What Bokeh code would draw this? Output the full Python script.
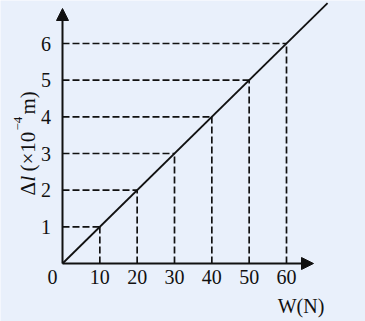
import math
from bokeh.plotting import figure
from bokeh.models import Range1d, Arrow, NormalHead, ColumnDataSource
from bokeh.core.properties import value
from bokeh.embed import file_html
from bokeh.resources import INLINE

# ---- data ----
weights = [10, 20, 30, 40, 50, 60]          # W (N)
extensions = [1, 2, 3, 4, 5, 6]             # Δl (×10⁻⁴ m)
x_tick_labels = ["10", "20", "30", "40", "50", "60"]
y_tick_labels = ["1", "2", "3", "4", "5", "6"]
fit_w = [0, 71]                              # straight line through origin
fit_dl = [0, 7.1]

# ---- layout helpers ----
W, H = 365, 321
OX, OY = 62, 263            # pixel position of the origin
SX = 224 / 60               # px per N
SY = 220 / 6                # px per unit of Δl
BG = "#E9F0FB"
INK = "#111111"
FONT = value("Liberation Serif")


def dx(px):
    return (px - OX) / SX


def dy(py):
    return (OY - py) / SY


p = figure(width=W, height=H,
           x_range=Range1d(dx(0), dx(W)), y_range=Range1d(dy(H), dy(0)),
           output_backend="svg", toolbar_location=None, min_border=0,
           x_axis_type=None, y_axis_type=None,
           background_fill_color=BG, border_fill_color=BG,
           outline_line_color=None)

src = ColumnDataSource(dict(w=weights, dl=extensions, zero=[0] * len(weights)))

# dashed guide lines
p.segment(x0="zero", y0="dl", x1="w", y1="dl", source=src,
          line_dash="7 3", line_width=1.7, line_color=INK)
p.segment(x0="w", y0="zero", x1="w", y1="dl", source=src,
          line_dash="7 3", line_width=1.7, line_color=INK)

# fitted line
p.line(fit_w, fit_dl, line_width=1.8, line_color=INK)

# axes with arrows
p.add_layout(Arrow(end=NormalHead(size=12, fill_color=INK, line_color=INK, line_width=1),
                   x_start=0, y_start=0, x_end=dx(313), y_end=0,
                   line_width=2, line_color=INK))
p.add_layout(Arrow(end=NormalHead(size=12, fill_color=INK, line_color=INK, line_width=1),
                   x_start=0, y_start=0, x_end=0, y_end=dy(8),
                   line_width=2, line_color=INK))

# tick labels
p.text(x=weights, y=dy(276.5), text=x_tick_labels, text_font=FONT,
       text_font_size="20px", text_color=INK,
       text_align="center", text_baseline="middle")
p.text(x=dx(45.5), y=extensions, text=y_tick_labels, text_font=FONT,
       text_font_size="20px", text_color=INK,
       text_align="center", text_baseline="middle")
p.text(x=[dx(52)], y=[dy(276.5)], text=["0"], text_font=FONT,
       text_font_size="20px", text_color=INK,
       text_align="center", text_baseline="middle")

# axis titles
p.text(x=[dx(300.5)], y=[dy(305)], text=["W(N)"], text_font=FONT,
       text_font_size="20px", text_color=INK,
       text_align="center", text_baseline="middle")

ylab_pieces = [
    # text, baseline x px, start y px, size, style
    ("Δ", 27, 195, "21px", "normal"),
    ("l", 27, 181, "21px", "italic"),
    ("(×10", 27, 171, "21px", "normal"),
    ("−4", 17, 130, "13px", "normal"),
    (" m)", 27, 114, "21px", "normal"),
]
for txt, bx, by, size, style in ylab_pieces:
    p.text(x=[dx(bx)], y=[dy(by)], text=[txt], angle=math.pi / 2,
           text_font=FONT, text_font_size=size, text_font_style=style,
           text_color=INK, text_align="left", text_baseline="alphabetic")

open("out.html", "w").write(file_html(p, INLINE))
